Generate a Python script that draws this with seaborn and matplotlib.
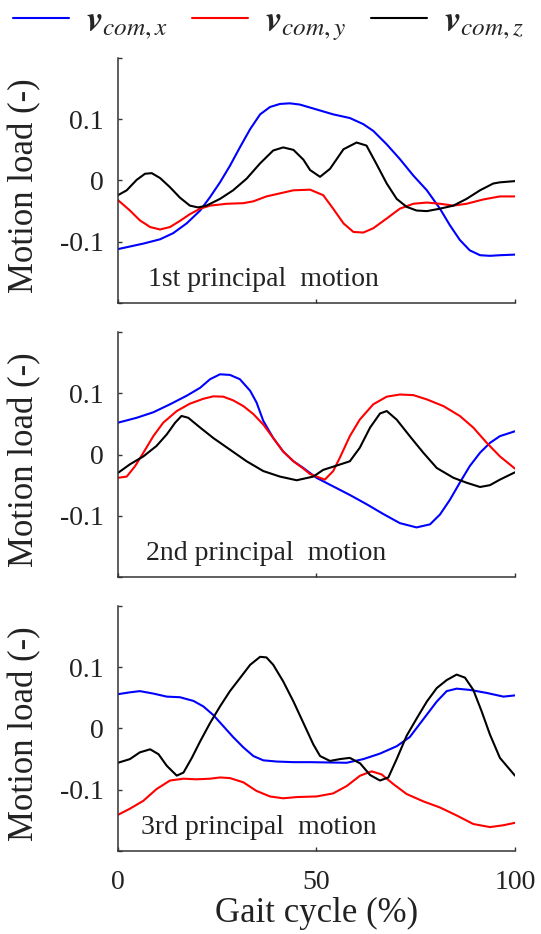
import numpy as np
import pandas as pd
import seaborn as sns
import matplotlib.pyplot as plt
from matplotlib.lines import Line2D

# ---- data (gait cycle %, motion load) ----
# 1st principal motion
t1_x = [0, 6.4, 10.6, 13.9, 17.3, 20.7, 23.2, 25.7, 28.2, 30.7, 33.3, 35.8, 38.3, 40.8, 43.3, 45.8, 50.0, 54.2, 58.4, 61.8, 64.3, 67.7, 71.0, 74.4, 77.8, 81.1, 83.6, 86.1, 88.6, 91.2, 93.7, 96.2, 100]
v1_x = [-0.112, -0.103, -0.096, -0.086, -0.070, -0.049, -0.027, -0.003, 0.024, 0.054, 0.084, 0.108, 0.120, 0.125, 0.126, 0.124, 0.116, 0.108, 0.102, 0.092, 0.081, 0.059, 0.035, 0.008, -0.016, -0.046, -0.073, -0.097, -0.114, -0.122, -0.123, -0.122, -0.121]
t1_y = [0, 3.0, 5.5, 8.1, 10.6, 13.1, 15.6, 18.1, 20.7, 23.2, 27.4, 31.6, 34.1, 37.4, 40.8, 44.2, 48.4, 51.7, 54.2, 56.8, 59.3, 61.8, 64.3, 67.7, 71.0, 74.4, 77.8, 81.1, 84.5, 87.8, 92.0, 96.2, 100]
v1_y = [-0.032, -0.049, -0.065, -0.076, -0.080, -0.076, -0.066, -0.055, -0.046, -0.041, -0.038, -0.037, -0.034, -0.026, -0.021, -0.016, -0.015, -0.024, -0.046, -0.070, -0.084, -0.085, -0.078, -0.062, -0.046, -0.038, -0.036, -0.038, -0.041, -0.038, -0.031, -0.026, -0.026]
t1_z = [0, 2.2, 4.7, 6.8, 8.5, 10.6, 13.1, 15.6, 18.1, 20.2, 22.3, 25.7, 29.0, 32.4, 35.8, 39.1, 41.6, 44.2, 46.7, 48.4, 50.9, 53.4, 56.8, 60.1, 62.6, 65.1, 67.7, 70.2, 72.7, 75.2, 77.8, 81.1, 84.5, 87.8, 91.2, 94.5, 96.2, 100]
v1_z = [-0.024, -0.016, 0.001, 0.011, 0.012, 0.004, -0.011, -0.028, -0.041, -0.044, -0.041, -0.030, -0.016, 0.003, 0.028, 0.049, 0.054, 0.050, 0.034, 0.017, 0.006, 0.019, 0.051, 0.062, 0.057, 0.027, -0.005, -0.030, -0.043, -0.049, -0.050, -0.046, -0.041, -0.030, -0.016, -0.005, -0.003, -0.001]

# 2nd principal motion
t2_x = [0, 4.7, 8.9, 13.1, 17.3, 20.7, 23.2, 25.7, 28.2, 30.7, 33.3, 34.9, 36.6, 39.1, 41.6, 44.2, 46.7, 50.0, 54.2, 58.4, 62.6, 66.8, 71.0, 75.2, 78.6, 81.1, 83.6, 86.1, 88.6, 91.2, 93.7, 96.2, 100]
v2_x = [0.052, 0.060, 0.069, 0.082, 0.096, 0.109, 0.123, 0.131, 0.130, 0.123, 0.104, 0.085, 0.055, 0.027, 0.005, -0.011, -0.022, -0.038, -0.052, -0.066, -0.081, -0.097, -0.112, -0.119, -0.114, -0.098, -0.074, -0.046, -0.019, 0.003, 0.019, 0.030, 0.038]
t2_y = [0, 2.2, 4.3, 6.4, 8.9, 11.4, 14.8, 18.1, 21.5, 24.0, 26.5, 29.0, 31.6, 34.1, 36.6, 39.1, 41.6, 44.2, 46.7, 48.4, 52.1, 54.2, 55.9, 58.4, 60.9, 64.3, 67.7, 71.0, 74.4, 77.8, 82.0, 86.1, 89.5, 92.9, 96.2, 100]
v2_y = [-0.038, -0.036, -0.019, 0.003, 0.030, 0.052, 0.071, 0.083, 0.091, 0.095, 0.0945, 0.0885, 0.079, 0.066, 0.049, 0.027, 0.005, -0.011, -0.023, -0.032, -0.041, -0.027, -0.005, 0.030, 0.057, 0.082, 0.0945, 0.098, 0.097, 0.090, 0.079, 0.063, 0.044, 0.019, -0.003, -0.023]
t2_z = [0, 3.0, 6.4, 9.7, 12.3, 14.4, 16.0, 17.7, 20.7, 24.0, 28.2, 32.4, 36.6, 40.8, 45.0, 49.2, 51.7, 55.1, 58.4, 60.9, 63.5, 66.0, 67.7, 70.2, 73.5, 76.9, 80.3, 84.5, 87.8, 91.2, 93.7, 96.2, 100]
v2_z = [-0.030, -0.016, -0.003, 0.014, 0.033, 0.052, 0.063, 0.060, 0.044, 0.027, 0.008, -0.011, -0.027, -0.036, -0.042, -0.036, -0.025, -0.018, -0.011, 0.011, 0.044, 0.067, 0.071, 0.057, 0.030, 0.003, -0.022, -0.038, -0.046, -0.053, -0.050, -0.041, -0.029]

# 3rd principal motion
t3_x = [0, 3.0, 5.5, 8.9, 12.3, 15.6, 19.0, 21.5, 24.0, 26.5, 29.0, 31.6, 34.1, 36.6, 40.0, 44.2, 48.4, 57.6, 61.8, 66.0, 70.2, 73.5, 76.9, 80.3, 82.8, 85.3, 88.6, 92.9, 97.1, 100]
v3_x = [0.056, 0.059, 0.061, 0.057, 0.052, 0.051, 0.045, 0.036, 0.022, 0.004, -0.014, -0.031, -0.045, -0.052, -0.054, -0.055, -0.055, -0.056, -0.050, -0.041, -0.029, -0.014, 0.015, 0.044, 0.061, 0.065, 0.063, 0.058, 0.052, 0.054]
t3_y = [0, 3.0, 6.4, 9.7, 13.1, 16.5, 19.8, 23.2, 25.7, 28.2, 31.6, 34.9, 38.3, 41.6, 45.0, 50.0, 54.2, 57.6, 61.0, 63.9, 66.4, 69.4, 72.7, 76.9, 81.1, 85.3, 89.5, 93.7, 97.1, 100]
v3_y = [-0.141, -0.131, -0.118, -0.099, -0.085, -0.082, -0.083, -0.082, -0.080, -0.081, -0.088, -0.102, -0.111, -0.114, -0.112, -0.111, -0.106, -0.094, -0.077, -0.070, -0.075, -0.091, -0.107, -0.119, -0.129, -0.142, -0.156, -0.161, -0.158, -0.154]
t3_z = [0, 3.0, 5.5, 8.1, 10.2, 12.3, 14.8, 16.5, 18.6, 20.7, 23.2, 25.7, 28.2, 30.7, 33.3, 35.8, 37.4, 39.1, 41.6, 44.2, 46.7, 49.2, 50.9, 53.4, 55.9, 58.4, 61.0, 63.5, 66.0, 68.1, 70.2, 72.7, 75.3, 77.8, 80.3, 82.8, 85.3, 87.4, 89.5, 91.6, 93.7, 96.2, 100]
v3_z = [-0.056, -0.050, -0.039, -0.034, -0.042, -0.061, -0.077, -0.072, -0.048, -0.021, 0.009, 0.036, 0.061, 0.082, 0.104, 0.117, 0.116, 0.104, 0.077, 0.044, 0.009, -0.026, -0.045, -0.053, -0.050, -0.048, -0.057, -0.076, -0.085, -0.080, -0.050, -0.012, 0.017, 0.044, 0.066, 0.079, 0.088, 0.083, 0.063, 0.028, -0.010, -0.048, -0.077]

series_names = ['vx', 'vy', 'vz']
legend_labels = [r'$\boldsymbol{v}_{com,x}$', r'$\boldsymbol{v}_{com,y}$', r'$\boldsymbol{v}_{com,z}$']
panel_titles = ['1st principal  motion', '2nd principal  motion', '3rd principal  motion']
title_x = [7.5, 7.0, 5.7]
colors = {'vx': '#0000ff', 'vy': '#ff0000', 'vz': '#000000'}

panels = [
    [(t1_x, v1_x), (t1_y, v1_y), (t1_z, v1_z)],
    [(t2_x, v2_x), (t2_y, v2_y), (t2_z, v2_z)],
    [(t3_x, v3_x), (t3_y, v3_y), (t3_z, v3_z)],
]

sns.set_style('ticks')
plt.rcParams['font.family'] = ['Liberation Serif', 'DejaVu Serif']
plt.rcParams['mathtext.fontset'] = 'stix'
plt.rcParams['axes.unicode_minus'] = False

txt_col = '#222222'
fig = plt.figure(figsize=(5.41, 9.34), dpi=100)
bottoms = [0.6756, 0.3822, 0.0889]

for i, (data, title) in enumerate(zip(panels, panel_titles)):
    ax = fig.add_axes([0.2181, bottoms[i], 0.7338, 0.2623])
    frames = []
    for name, (t, v) in zip(series_names, data):
        frames.append(pd.DataFrame({'t': t, 'v': v, 's': name}))
    df = pd.concat(frames, ignore_index=True)
    sns.lineplot(data=df, x='t', y='v', hue='s', hue_order=series_names,
                 palette=colors, linewidth=1.5, legend=False, ax=ax, sort=False)
    ax.set_xlim(0, 100)
    ax.set_ylim(-0.2, 0.2)
    ax.set_xticks([0, 50, 100])
    ax.set_yticks([-0.2, -0.1, 0, 0.1, 0.2])
    ax.set_yticklabels(['', '-0.1', '0', '0.1', ''])
    ax.tick_params(direction='in', length=3, width=1, colors='#333333',
                   labelsize=20, labelcolor=txt_col)
    ax.tick_params(axis='y', pad=10)
    ax.tick_params(axis='x', pad=14)
    if i < 2:
        ax.set_xticklabels([])
        ax.set_xlabel('')
    else:
        ax.set_xticklabels(['0', '50', '100'])
        ax.set_xlabel('Gait cycle (%)', fontsize=25, color=txt_col, labelpad=1)
    ax.set_ylabel('Motion load (-)', fontsize=25, color=txt_col)
    ax.yaxis.set_label_coords(-0.194, 0.48)
    sns.despine(ax=ax)
    for sp in ['left', 'bottom']:
        ax.spines[sp].set_linewidth(1.1)
        ax.spines[sp].set_color('#333333')
    ax.text(title_x[i], -0.162, title, fontsize=20, color=txt_col, va='center', ha='left')

handles = [Line2D([], [], color=colors[s], linewidth=1.5) for s in series_names]
fig.legend(handles, legend_labels, loc='center left', bbox_to_anchor=(0.024, 1 - 24 / 934),
           ncol=3, frameon=False, fontsize=26, borderpad=0, borderaxespad=0,
           handlelength=1.55, handletextpad=0.47, columnspacing=0.67)

fig.savefig('out.png', dpi=100)
